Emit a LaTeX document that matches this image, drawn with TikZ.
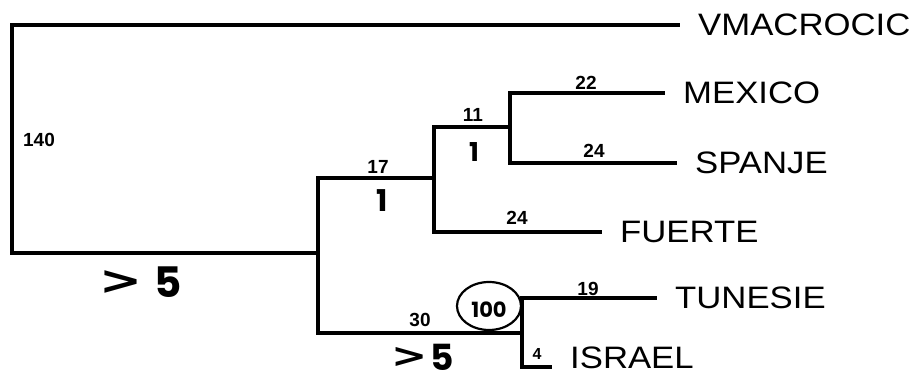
\documentclass[tikz,border=0pt]{standalone}
\usepackage{fontspec}
\usepackage{graphicx}
\setmainfont{Liberation Sans}
\newfontfamily\handfont{Poppins}
\newfontfamily\gtfont{DejaVu Sans}
\newcommand\leafstyle{\fontsize{31}{31}\selectfont}
\newcommand\numstyle{\fontsize{19}{19}\selectfont\bfseries}
\newcommand\lf[1]{\scalebox{1.12}[1]{#1}}
\newcommand\hgt{{\gtfont\bfseries\raisebox{0.08em}{\scalebox{1.35}[1.05]{>}}}}
\begin{document}
\begin{tikzpicture}[x=1pt,y=-1pt,
  br/.style={line width=4.4pt, line cap=rect, line join=miter},
  leaf/.style={anchor=west, inner xsep=20pt, inner ysep=0pt, font=\leafstyle},
  num/.style={inner sep=0pt, font=\numstyle},
  hand/.style={inner sep=0pt}]
\useasboundingbox[fill=white] (0,0) rectangle (919,385);
% internal junctions
\coordinate (r) at (12,140);
\coordinate (A) at (318,253);
\coordinate (B) at (434,178);
\coordinate (C) at (510,127);
\coordinate (D) at (522,333);
\coordinate (iend) at (550,367);
% leaves
\node[leaf] (vmac) at (678,25) {\lf{VMACROCIC}};
\node[leaf] (mex) at (663,93) {\lf{MEXICO}};
\node[leaf] (spa) at (675,163) {\lf{SPANJE}};
\node[leaf] (fue) at (600,232) {\lf{FUERTE}};
\node[leaf] (tun) at (655,298) {\lf{TUNESIE}};
\node[leaf] (isr) at (550,358) {\lf{ISRAEL}};
% branches
\draw[br] (vmac.west) -| (r) |- (A);
\draw[br] (B) -| (A) |- (D);
\draw[br] (C) -| (B) |- (fue.west);
\draw[br] (mex.west) -| (C) |- (spa.west);
\draw[br] (tun.west) -| (D) |- (iend);
% branch lengths
\node[num] (n140) at (39,140) {140};
\node[num] (n17) at (378,167) {17};
\node[num] (n11) at (473,115) {11};
\node[num] (n22) at (586,83) {22};
\node[num] (n24a) at (594,151) {24};
\node[num] (n24b) at (517,218) {24};
\node[num] (n30) at (420,320) {30};
\node[num] (n19) at (588,289) {19};
\node[num,font=\fontsize{16}{16}\selectfont\bfseries] (n4) at (537,354) {4};
% handwritten annotations
\node[hand,font=\handfont\fontsize{30}{30}\selectfont\bfseries] (h1a) at (382,201) {1};
\node[hand,font=\handfont\fontsize{26}{26}\selectfont\bfseries] (h1b) at (474,152) {1};
\node[hand,font=\handfont\fontsize{42}{42}\selectfont\bfseries] (h5a) at (141,282) {\fontsize{38}{38}\selectfont\hgt\hspace{12pt}\fontsize{42}{42}\selectfont 5};
\node[hand,font=\handfont\fontsize{36}{36}\selectfont\bfseries] (h5b) at (423,357) {\fontsize{32}{32}\selectfont\hgt\hspace{3pt}\fontsize{36}{36}\selectfont 5};
\node[hand,font=\handfont\fontsize{21}{21}\selectfont] (h100) at (489,310) {\bfseries 100};
\draw[line width=2.2pt] (489,306) ellipse [x radius=32, y radius=24];
\end{tikzpicture}
\end{document}
